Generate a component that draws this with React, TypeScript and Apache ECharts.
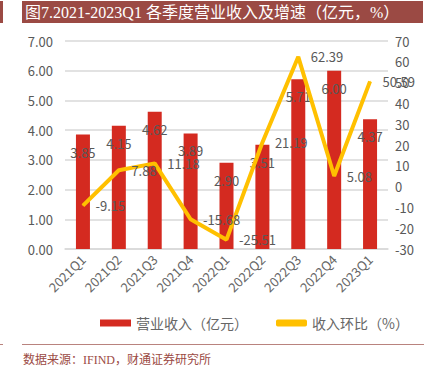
import React, { useEffect, useRef } from "react";
import * as echarts from "echarts";

const categories = ["2021Q1", "2021Q2", "2021Q3", "2021Q4", "2022Q1", "2022Q2", "2022Q3", "2022Q4", "2023Q1"];
const revenue = [3.85, 4.15, 4.62, 3.89, 2.9, 3.51, 5.71, 6.0, 4.37];
const qoq = [-9.15, 7.88, 11.18, -15.68, -25.51, 21.19, 62.39, 5.08, 50.59];
const titleText = "图7.2021-2023Q1 各季度营业收入及增速（亿元，%）";
const sourceText = "数据来源：IFIND，财通证券研究所";
const seriesNames = ["营业收入（亿元）", "收入环比（%）"];

export default function App() {
  const ref = useRef<HTMLDivElement>(null);
  useEffect(() => {
    if (!ref.current) return;
    const chart = echarts.init(ref.current, null, { renderer: "svg" });
    const font = "'Noto Sans CJK SC', sans-serif";
    chart.setOption({
      animation: false,
      textStyle: { fontFamily: font },
      grid: { left: 65, right: 48, top: 41, bottom: 128, containLabel: false },
      legend: {
        top: 311,
        left: 95,
        itemGap: 28,
        textStyle: { color: "#666666", fontSize: 14, fontFamily: font },
        data: [
          { name: seriesNames[0], icon: "rect", itemStyle: { color: "#D42A20" } },
          { name: seriesNames[1], icon: "roundRect" },
        ],
        itemWidth: 31,
        itemHeight: 7,
      },
      xAxis: {
        type: "category",
        data: categories,
        axisLine: { lineStyle: { color: "#D9D9D9", width: 1.5 } },
        axisTick: { show: false },
        axisLabel: { rotate: 45, color: "#666666", fontSize: 13, interval: 0, margin: 8 },
      },
      yAxis: [
        {
          type: "value",
          min: 0,
          max: 7,
          interval: 1,
          axisLine: { show: false },
          axisTick: { show: false },
          axisLabel: { color: "#595959", fontSize: 13, formatter: (v: number) => v.toFixed(2), margin: 12 },
          splitLine: { lineStyle: { color: "#D9D9D9", width: 1.5 } },
        },
        {
          type: "value",
          min: -30,
          max: 70,
          interval: 10,
          axisLine: { show: false },
          axisTick: { show: false },
          axisLabel: { color: "#595959", fontSize: 13, margin: 7 },
          splitLine: { show: false },
        },
      ],
      series: [
        {
          name: seriesNames[0],
          type: "bar",
          data: revenue,
          barWidth: 14,
          itemStyle: { color: "#D42A20" },
          label: {
            show: true,
            position: "insideTop",
            distance: 11,
            color: "#595959",
            fontSize: 13,
            formatter: (p: any) => p.value.toFixed(2),
          },
        },
        {
          name: seriesNames[1],
          type: "line",
          yAxisIndex: 1,
          data: qoq,
          symbol: "circle",
          showSymbol: true,
          symbolSize: 1,
          lineStyle: { color: "#FFC000", width: 4 },
          itemStyle: { color: "#FFC000" },
          label: {
            show: true,
            position: "right",
            distance: 12,
            color: "#595959",
            fontSize: 13,
            formatter: (p: any) => p.value.toFixed(2),
          },
          labelLayout: { hideOverlap: false },
          z: 3,
        },
      ],
      graphic: [
        { type: "rect", shape: { x: 0, y: 1, width: 3, height: 22 }, style: { fill: "#9B4A44" } },
        { type: "rect", shape: { x: 22, y: 1, width: 401, height: 22 }, style: { fill: "#9B4A44" } },
        {
          type: "text",
          x: 25,
          y: 12,
          style: {
            text: titleText,
            fill: "#FFFFFF",
            fontSize: 16,
            fontFamily: "'Liberation Serif', 'Noto Sans CJK SC', serif",
            verticalAlign: "middle",
          },
        },
        { type: "rect", shape: { x: 0, y: 344, width: 3, height: 1 }, style: { fill: "#B9837E" } },
        { type: "rect", shape: { x: 22, y: 344, width: 402, height: 1 }, style: { fill: "#B9837E" } },
        {
          type: "text",
          x: 23,
          y: 360,
          style: {
            text: sourceText,
            fill: "#9B4A44",
            fontSize: 12,
            fontFamily: "'Liberation Serif', 'Noto Sans CJK SC', serif",
            verticalAlign: "middle",
          },
        },
      ],
    });
    return () => chart.dispose();
  }, []);
  return <div ref={ref} style={{ width: 436, height: 377, position: "absolute", left: 0, top: 0 }} />;
}
